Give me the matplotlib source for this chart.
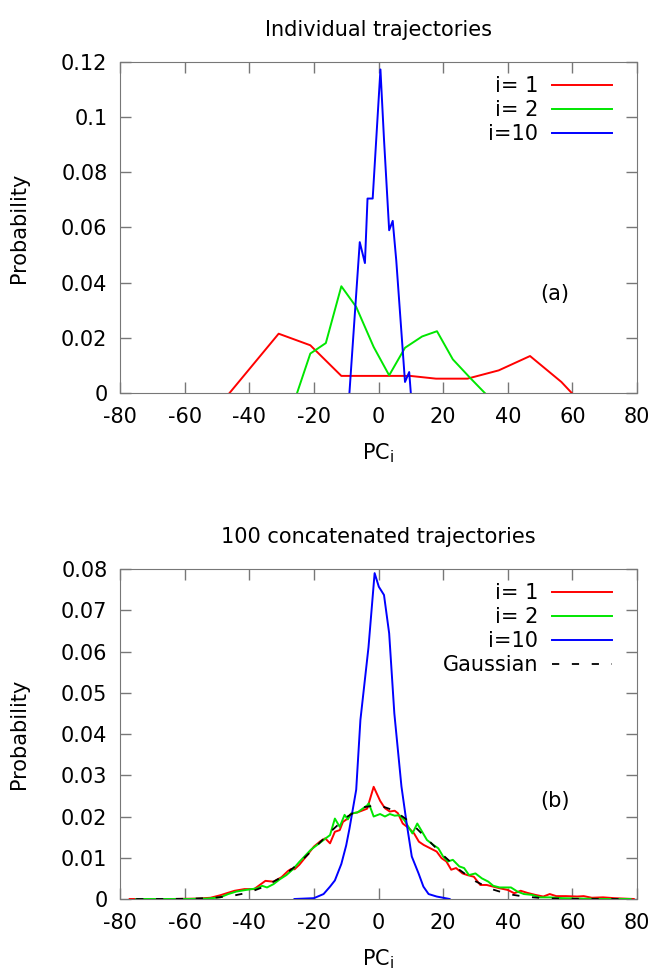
import matplotlib
matplotlib.use('Agg')
import matplotlib.pyplot as plt

# (a) individual trajectories
a_x1 = [-46.1, -30.9, -21.1, -11.5, 9.8, 17.8, 27.5, 37.2, 46.9, 56.6, 59.8]
a_y1 = [0, 0.0215, 0.0173, 0.0062, 0.0062, 0.0052, 0.0052, 0.0082, 0.0134, 0.004, 0]
a_x2 = [-25.2, -21.1, -16.3, -11.5, -6.9, -1.5, 3.3, 8.2, 13.5, 18.1, 23.0, 28.1, 32.9]
a_y2 = [0, 0.0143, 0.0181, 0.0387, 0.0312, 0.0167, 0.0064, 0.0164, 0.0205, 0.0224,
        0.0122, 0.0058, 0]
a_x10 = [-9.0, -5.8, -4.2, -3.4, -1.8, 0.6, 1.7, 3.3, 4.4, 5.5, 8.2, 9.5, 10.0]
a_y10 = [0, 0.0547, 0.0471, 0.0705, 0.0705, 0.1173, 0.092, 0.059, 0.0624, 0.048,
         0.004, 0.0076, 0]

# (b) 100 concatenated trajectories
b_x1 = [-77, -70, -64, -56, -52, -49, -47, -44.5, -41.5, -38.5, -35, -32.5, -30, -28,
        -27, -26, -24.5, -22, -20, -18, -16.5, -15, -13.5, -12, -11, -9.5, -8.5, -6.5,
        -3.5, -1.5, 0.5, 2, 3.5, 5, 6, 7.5, 9.5, 11, 12.5, 14, 16, 18, 19.5, 21, 22.5,
        24, 26, 27.5, 29.5, 31.5, 33.5, 35.5, 37.5, 40, 42, 44, 46, 48.5, 51, 53, 55,
        58, 61.5, 63.5, 66, 69.5, 73, 76, 79]
b_y1 = [0, 0, 0, 0.0001, 0.0003, 0.0009, 0.0014, 0.002, 0.0024, 0.0024, 0.0044, 0.0042,
        0.0053, 0.0068, 0.0073, 0.0072, 0.0083, 0.0107, 0.0127, 0.014, 0.0147, 0.0135,
        0.0163, 0.0167, 0.0187, 0.0195, 0.0207, 0.021, 0.0219, 0.0272, 0.0238, 0.022,
        0.0212, 0.0214, 0.0208, 0.0183, 0.0171, 0.0159, 0.0139, 0.0131, 0.0123, 0.0115,
        0.0099, 0.0091, 0.0071, 0.0075, 0.0062, 0.0058, 0.0054, 0.0034, 0.0034, 0.003,
        0.0026, 0.0022, 0.0014, 0.002, 0.0015, 0.001, 0.0006, 0.0012, 0.0007, 0.0007,
        0.0006, 0.0007, 0.0003, 0.0004, 0.0002, 0.0001, 0]
b_x2 = [-75, -66, -59, -53, -49, -46.5, -44, -41, -37.5, -36, -34.5, -32.5, -30.5, -28.5,
        -26.5, -24.5, -21, -19, -17, -15, -13.5, -12, -10.5, -9.5, -8.5, -6.5, -3.5, -3,
        -1.5, 0.5, 2, 3.5, 5, 6.5, 8, 10.5, 12, 13.5, 15, 17, 18.5, 20, 21.5, 23, 25,
        26.5, 28, 30, 32, 34, 35.5, 37.5, 41, 43, 45, 47.5, 50, 53, 57, 62.5, 70, 78]
b_y2 = [0, 0, 0, 0.0001, 0.0004, 0.0012, 0.0018, 0.0022, 0.0026, 0.0032, 0.0028, 0.0036,
        0.0048, 0.0058, 0.0072, 0.009, 0.0119, 0.0131, 0.0143, 0.0155, 0.0195, 0.0175,
        0.0204, 0.0193, 0.0207, 0.021, 0.0227, 0.0232, 0.02, 0.0206, 0.02, 0.0206,
        0.0202, 0.0203, 0.0191, 0.0159, 0.0183, 0.0163, 0.0143, 0.0131, 0.0123, 0.0103,
        0.0091, 0.0095, 0.0079, 0.0075, 0.0058, 0.0062, 0.005, 0.0042, 0.0032, 0.0028,
        0.0028, 0.0018, 0.0012, 0.001, 0.0004, 0.0004, 0.0002, 0.0001, 0, 0]
b_x10 = [-26, -20, -17, -15, -13.5, -11.5, -10, -9, -6.9, -5.6, -3.1, -1.2, 0.1, 1.7,
         3.3, 4.9, 7.1, 8.7, 10.3, 12.4, 13.9, 15.5, 18, 22]
b_y10 = [0, 0.0002, 0.0012, 0.003, 0.0045, 0.0085, 0.013, 0.017, 0.0265, 0.0434, 0.061,
         0.079, 0.0757, 0.0737, 0.0644, 0.045, 0.0273, 0.0184, 0.0103, 0.0062, 0.003,
         0.0012, 0.0006, 0]
gauss_x = [-75, -70, -65, -60, -55, -50, -45, -40, -35, -30, -25, -20, -15, -10, -5, 0,
           5, 10, 15, 20, 25, 30, 35, 40, 45, 50, 55, 60, 65, 70, 75]
gauss_y = [0, 0, 0.00002, 0.00005, 0.00015, 0.00036, 0.0008, 0.0016, 0.0031, 0.0053,
           0.0084, 0.0122, 0.0162, 0.0198, 0.0222, 0.0228, 0.0214, 0.0185, 0.0146,
           0.0106, 0.0071, 0.0043, 0.0024, 0.0012, 0.0006, 0.00025, 0.0001, 0.00004,
           0.00001, 0, 0]

xticks = [-80, -60, -40, -20, 0, 20, 40, 60, 80]
a_yticks = [0, 0.02, 0.04, 0.06, 0.08, 0.1, 0.12]
b_yticks = [0, 0.01, 0.02, 0.03, 0.04, 0.05, 0.06, 0.07, 0.08]

RED, GREEN, BLUE = '#ff0000', '#00e600', '#0000ff'
FS = 15
plt.rcParams['font.size'] = FS
plt.rcParams['axes.unicode_minus'] = False

fig = plt.figure(figsize=(6.55, 9.71), dpi=100)
ax1 = fig.add_axes([120 / 655, 1 - 393 / 971, 517 / 655, 331 / 971])
ax2 = fig.add_axes([120 / 655, 1 - 899 / 971, 517 / 655, 330 / 971])

ax1.plot(a_x1, a_y1, color=RED, lw=1.4, label='i= 1')
ax1.plot(a_x2, a_y2, color=GREEN, lw=1.4, label='i= 2')
ax1.plot(a_x10, a_y10, color=BLUE, lw=1.4, label='i=10')

ax2.plot(b_x1, b_y1, color=RED, lw=1.4, label='i= 1')
ax2.plot(b_x2, b_y2, color=GREEN, lw=1.4, label='i= 2')
ax2.plot(b_x10, b_y10, color=BLUE, lw=1.4, label='i=10')
ax2.plot(gauss_x, gauss_y, color='black', lw=1.3, ls=(0, (4, 7)), label='Gaussian')

for ax, yt, title, tag, tagy in [(ax1, a_yticks, 'Individual trajectories', '(a)', 0.0358),
                                 (ax2, b_yticks, '100 concatenated trajectories', '(b)', 0.0238)]:
    ax.set_xlim(-80, 80)
    ax.set_ylim(yt[0], yt[-1])
    ax.set_xticks(xticks)
    ax.set_yticks(yt)
    ax.set_yticklabels(['%g' % v for v in yt])
    ax.tick_params(direction='in', length=8, width=1, color='#777777',
                   top=True, right=True, labelsize=FS)
    ax.tick_params(axis='x', pad=10)
    ax.tick_params(axis='y', pad=9)
    for s in ax.spines.values():
        s.set_color('#777777')
    ax.set_title(title, fontsize=FS, pad=19)
    ax.set_xlabel(r'PC$_\mathrm{i}$', fontsize=FS)
    ax.xaxis.set_label_coords(0.5, -0.147)
    ax.set_ylabel('Probability', fontsize=FS)
    ax.yaxis.set_label_coords(-0.176, 0.5)
    ax.text(54.6, tagy, tag, fontsize=FS, ha='center', va='center')
    ax.legend(loc='upper right', bbox_to_anchor=(0.952, 0.958), frameon=False,
              markerfirst=False, handlelength=2.9, handletextpad=0.65,
              borderpad=0, borderaxespad=0, labelspacing=0.2, fontsize=FS)

fig.savefig('out.png', dpi=100)
